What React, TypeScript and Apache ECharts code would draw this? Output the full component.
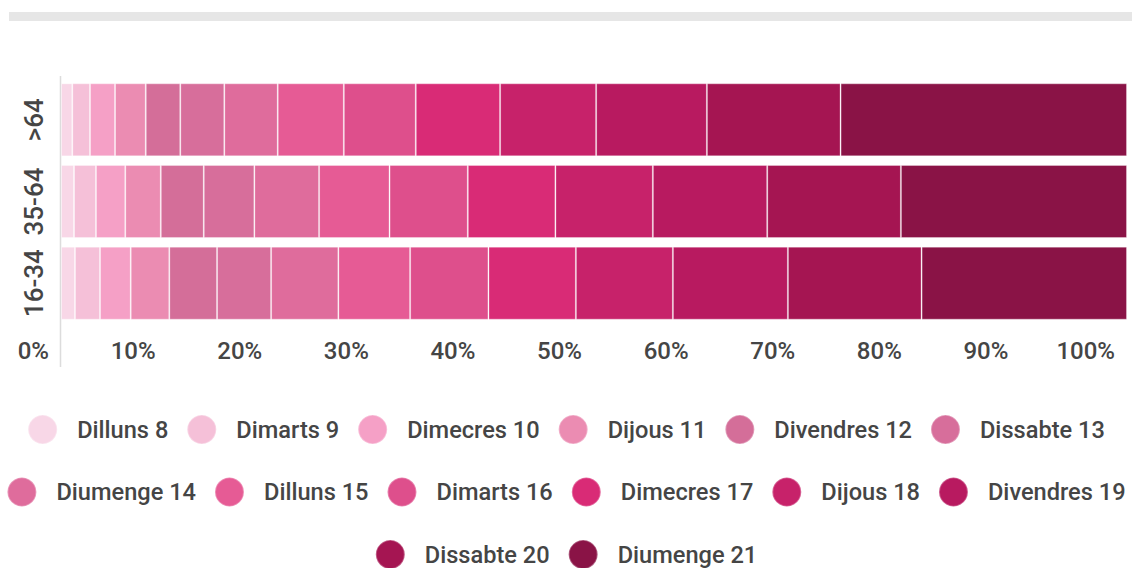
import React, { useEffect, useRef } from "react";
import * as echarts from "echarts";

const ageGroups = ["16-34", "35-64", ">64"];
const seriesNames = [
  "Dilluns 8", "Dimarts 9", "Dimecres 10", "Dijous 11", "Divendres 12", "Dissabte 13",
  "Diumenge 14", "Dilluns 15", "Dimarts 16", "Dimecres 17", "Dijous 18", "Divendres 19",
  "Dissabte 20", "Diumenge 21",
];
const seriesColors = [
  "#f8d7e7", "#f5c0d8", "#f5a0c6", "#eb8cb2", "#d46e99", "#d76e9b",
  "#df6c9c", "#e65b95", "#de4f8c", "#d92b76", "#c7226a", "#b81a60",
  "#a51552", "#8a1346",
];
// percentage share per series for each age group
const values16to34 = [1.31, 2.35, 2.88, 3.62, 4.48, 5.07, 6.31, 6.73, 7.35, 8.2, 9.1, 10.79, 12.54, 19.27];
const values35to64 = [1.22, 2.06, 2.75, 3.33, 4.03, 4.75, 6.07, 6.61, 7.34, 8.22, 9.14, 10.73, 12.54, 21.21];
const valuesOver64 = [1.06, 1.66, 2.35, 2.88, 3.24, 4.13, 5.01, 6.2, 6.75, 7.91, 9.01, 10.39, 12.54, 26.87];
const xTicks = [0, 10, 20, 30, 40, 50, 60, 70, 80, 90, 100];

const legendRow1 = seriesNames.slice(0, 6);
const legendRow2 = seriesNames.slice(6, 12);
const legendRow3 = seriesNames.slice(12);

const TEXT = "#454545";
const FONT = "Roboto";

export default function App() {
  const ref = useRef<HTMLDivElement>(null);
  useEffect(() => {
    document.body.style.margin = "0";
    const chart = echarts.init(ref.current!, null, { renderer: "svg" });
    const legendBase = {
      icon: "circle",
      itemWidth: 29,
      itemHeight: 29,
      itemGap: 18,
      left: "center",
      padding: 0,
      width: 1132,
      textStyle: { fontSize: 23.6, color: TEXT, fontFamily: FONT, fontWeight: 500, padding: [0, 0, 0, 15] },
    };
    chart.setOption({
      animation: false,
      color: seriesColors,
      grid: { left: 61, right: 5, top: 79, height: 245, containLabel: false },
      xAxis: {
        type: "value",
        min: xTicks[0],
        max: xTicks[xTicks.length - 1],
        interval: 10,
        axisLine: { show: false },
        axisTick: { show: false },
        splitLine: { show: false },
        axisLabel: {
          formatter: "{value}%",
          align: "right",
          padding: [0, 12, 0, 0],
          margin: 15,
          fontSize: 24,
          color: TEXT,
          fontFamily: FONT,
          fontWeight: 500,
        },
      },
      yAxis: {
        type: "category",
        data: ageGroups,
        axisLine: { show: false },
        axisTick: { show: false },
        axisLabel: {
          interval: 0,
          hideOverlap: false,
          rotate: 90,
          margin: 14,
          fontSize: 26,
          color: TEXT,
          fontFamily: FONT,
          fontWeight: 500,
        },
      },
      legend: [
        { ...legendBase, top: 414, data: legendRow1 },
        { ...legendBase, top: 476.5, data: legendRow2 },
        { ...legendBase, top: 539, data: legendRow3 },
      ],
      graphic: [
        { type: "rect", left: 9, top: 12, shape: { width: 1123, height: 9 }, style: { fill: "#e6e6e6" } },
        { type: "line", shape: { x1: 60.5, y1: 76, x2: 60.5, y2: 367 }, style: { stroke: "#dcdcdc", lineWidth: 1.5 } },
      ],
      series: seriesNames.map((name, i) => ({
        name,
        type: "bar",
        stack: "total",
        barWidth: 73,
        itemStyle: { borderColor: "rgba(255,255,255,0.3)", borderWidth: 1 },
        data: [values16to34[i], values35to64[i], valuesOver64[i]],
      })),
    });
    return () => chart.dispose();
  }, []);
  return <div ref={ref} style={{ width: 1132, height: 568 }} />;
}
